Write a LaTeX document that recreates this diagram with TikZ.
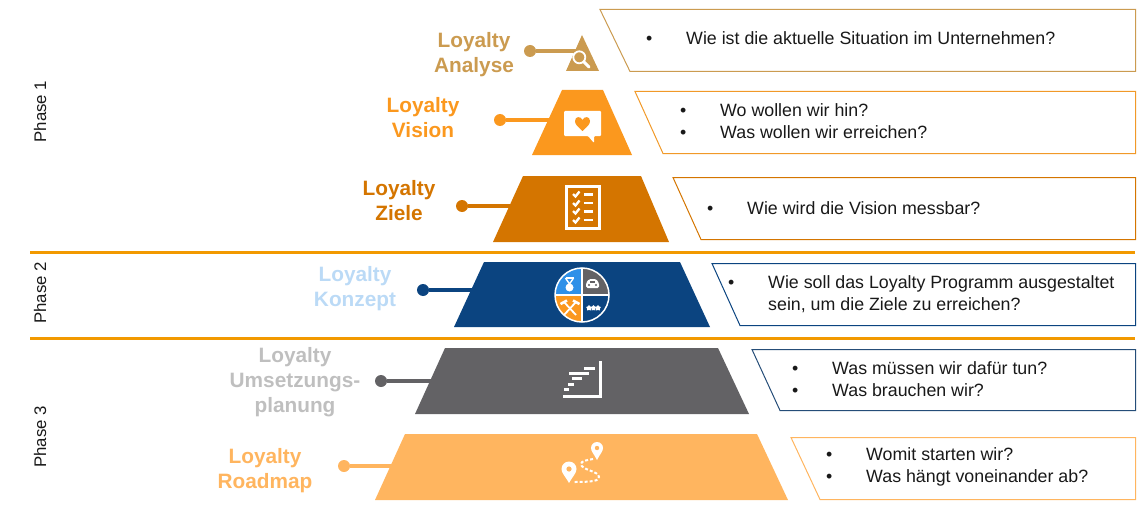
\documentclass[tikz,border=0pt]{standalone}
\usepackage{fontspec}
\setmainfont{Liberation Sans}
\usetikzlibrary{shapes.geometric}
\definecolor{analyse}{HTML}{CB9B50}
\definecolor{vision}{HTML}{FB981E}
\definecolor{ziele}{HTML}{D47500}
\definecolor{konzept}{HTML}{0B4480}
\definecolor{konzeptlight}{HTML}{BBDAF6}
\definecolor{umsetzung}{HTML}{636265}
\definecolor{umsetzunglight}{HTML}{BFBFBF}
\definecolor{roadmap}{HTML}{FFB55F}
\definecolor{divider}{HTML}{F29900}
\definecolor{sky}{HTML}{2E90E8}
\tikzset{
  tierlabel/.style={font=\fontsize{20.8}{25}\bfseries\selectfont, align=center},
  dot/.style={circle, fill=#1, inner sep=0pt, minimum size=12pt},
  stem/.style={line width=3.2pt, draw=#1},
  answer/.style={anchor=base west, inner sep=0pt, text=black!90, font=\fontsize{17.8}{20}\selectfont},
  phase/.style={rotate=90, text=black!90, font=\fontsize{16.8}{20}\selectfont},
  ico/.style={draw=white, line width=#1},
  ico/.default=2.5pt,
  qbox/.style={draw=#1, line width=1pt}
}

\begin{document}
\begin{tikzpicture}[x=1pt,y=-1pt]
\useasboundingbox (0,0) rectangle (1142,508);
% pyramid
\fill[analyse] (582,35)--(599,71)--(566,71)--cycle;
\fill[vision] (562,90)--(603,90)--(632,155)--(532,155)--cycle;
\fill[ziele] (523,176)--(641,176)--(669,242)--(493,242)--cycle;
\fill[konzept] (484,262)--(680,262)--(710,327)--(454,327)--cycle;
\fill[umsetzung] (445,348)--(718,348)--(749,414)--(415,414)--cycle;
\fill[roadmap] (405,434)--(757,434)--(788,500)--(375,500)--cycle;
% question boxes
\draw[qbox=analyse] (600,9.5)--(1135.5,9.5)--(1135.5,71.5)--(630,71.5)--cycle;
\draw[qbox=vision!80!analyse] (635,91.5)--(1135.5,91.5)--(1135.5,153.5)--(663,153.5)--cycle;
\draw[qbox=ziele] (673,177.5)--(1135.5,177.5)--(1135.5,239.5)--(701,239.5)--cycle;
\draw[qbox=konzept] (712,263.5)--(1135.5,263.5)--(1135.5,325.5)--(740,325.5)--cycle;
\draw[qbox=konzept!70!umsetzung] (752,349.5)--(1135.5,349.5)--(1135.5,410.5)--(780,410.5)--cycle;
\draw[qbox=roadmap] (791,437.5)--(1135.5,437.5)--(1135.5,499.5)--(820,499.5)--cycle;
% dividers
\coordinate (divAl) at (30,252.5);
\coordinate (divAr) at (1135,252.5);
\coordinate (divBl) at (30,338.5);
\coordinate (divBr) at (1135,338.5);
\draw[divider,line width=3pt] (divAl)--(divAr);
\draw[divider,line width=3pt] (divBl)--(divBr);
% phases
\node[phase] (phaseA) at (40,111.5) {Phase 1};
\node[phase] (phaseB) at (40,293) {Phase 2};
\node[phase] (phaseC) at (40,437) {Phase 3};
% labels
\node[tierlabel,text=analyse] (labelA) at (474,55) {Loyalty\\Analyse};
\node[tierlabel,text=vision] (labelB) at (423,118) {Loyalty\\Vision};
\node[tierlabel,text=ziele] (labelC) at (399,201) {Loyalty\\Ziele};
\node[tierlabel,text=konzeptlight] (labelD) at (355,289) {Loyalty\\Konzept};
\node[tierlabel,text=umsetzunglight] (labelE) at (295,382) {Loyalty\\Umsetzungs-\\planung};
\node[tierlabel,text=roadmap] (labelF) at (265,471) {Loyalty\\Roadmap};
% connectors
\node[dot=analyse] (dotA) at (530,51) {};
\node[dot=vision] (dotB) at (500,120) {};
\node[dot=ziele] (dotC) at (462,206) {};
\node[dot=konzept] (dotD) at (423,290) {};
\node[dot=umsetzung] (dotE) at (381,381) {};
\node[dot=roadmap] (dotF) at (344,466) {};
\coordinate (endA) at (576,51);
\coordinate (endB) at (552,120);
\coordinate (endC) at (512,206);
\coordinate (endD) at (472,290);
\coordinate (endE) at (431,381);
\coordinate (endF) at (392,466);
\draw[stem=analyse] (dotA)--(endA);
\draw[stem=vision] (dotB)--(endB);
\draw[stem=ziele] (dotC)--(endC);
\draw[stem=konzept] (dotD)--(endD);
\draw[stem=umsetzung] (dotE)--(endE);
\draw[stem=roadmap] (dotF)--(endF);
% magnifier
\draw[ico=1.8pt] (579.3,57.3) circle (6);
\draw[ico=3pt,line cap=round] (584,62)--(589,67);
% bubble
\fill[white,rounded corners=1pt] (564,111)--(601,111)--(601,136)--(594,136)--(594,143)--(588,136)--(564,136)--cycle;
\fill[vision] (582.5,131) .. controls (577,126) and (575,124) .. (575,121) .. controls (575,116) and (581,116) .. (582.5,120) .. controls (584,116) and (590,116) .. (590,121) .. controls (590,124) and (588,126) .. (582.5,131);
% checklist
\draw[ico=3pt] (566,186) rectangle (599,228);
\draw[ico=2.3pt] (573,194)--(575.5,196.5)--(579.5,191.5);
\draw[ico=2.3pt] (573,203)--(575.5,205.5)--(579.5,200.5);
\draw[ico=2.3pt] (573,211)--(575.5,213.5)--(579.5,208.5);
\draw[ico=2.3pt] (573,220)--(575.5,222.5)--(579.5,217.5);
\draw[ico=2.3pt] (584,194.5)--(593,194.5);
\draw[ico=2.3pt] (584,203)--(593,203);
\draw[ico=2.3pt] (584,211.5)--(593,211.5);
\draw[ico=2.3pt] (584,220)--(593,220);
% pie
\fill[sky] (582,295)--(555,295) arc[start angle=180,end angle=270,radius=27]--cycle;
\fill[umsetzung] (582,295)--(582,268) arc[start angle=270,end angle=360,radius=27]--cycle;
\fill[vision] (582,295)--(582,322) arc[start angle=90,end angle=180,radius=27]--cycle;
\draw[ico=1.5pt] (582,295) circle (27);
\draw[ico=1.5pt] (555,295)--(609,295);
\draw[ico=1.5pt] (582,268)--(582,322);
% medal
\draw[ico=1.4pt] (565.5,278)--(569.5,284)--(573.5,278);
\draw[ico=1.2pt] (566,278)--(574,278);
\fill[white] (569.5,287.5) circle (4);
% car
\fill[white,rounded corners=1.5pt] (586,283)--(589,279)--(596,279)--(599,283)--(599,288)--(586,288)--cycle;
\fill[umsetzung] (590,280.5) rectangle (595,283);
\fill[umsetzung] (589,285) circle (1.2);
\fill[umsetzung] (596,285) circle (1.2);
% hammers
\draw[ico=1.8pt] (564,315)--(576,302);
\draw[ico=1.8pt] (576,315)--(564,302);
\draw[ico=2.6pt] (560.5,304)--(567,300.5);
\draw[ico=2.6pt] (579.5,304)--(573,300.5);
% stars
\node[star,star points=5,fill=white,inner sep=0pt,minimum size=6pt] (starA) at (589,308) {};
\node[star,star points=5,fill=white,inner sep=0pt,minimum size=6pt] (starB) at (593.5,308) {};
\node[star,star points=5,fill=white,inner sep=0pt,minimum size=6pt] (starC) at (598,308) {};
% stairs
\draw[ico=3pt] (600.5,361)--(600.5,396.5)--(563,396.5);
\draw[ico=3pt] (584,368)--(595,368);
\draw[ico=3pt] (569,373.3)--(589,373.3);
\draw[ico=3pt] (572,378.7)--(582,378.7);
\draw[ico=3pt] (568,384)--(574,384);
\draw[ico=3pt] (564,389.3)--(569,389.3);
% pins
\fill[white] (569,483) .. controls (565,476) and (561.5,473) .. (561.5,469) arc[start angle=180,end angle=360,radius=7.5] .. controls (576.5,473) and (573,476) .. (569,483);
\fill[roadmap] (569,469) circle (2.6);
\fill[white] (597,460) .. controls (594,454) and (591,451.5) .. (591,448) arc[start angle=180,end angle=360,radius=6] .. controls (603,451.5) and (600,454) .. (597,460);
\fill[roadmap] (597,448) circle (2.2);
\draw[white,line width=2pt,dash pattern=on 3pt off 2pt] (593,459) .. controls (587,460) and (581,461) .. (581,464) .. controls (581,470) and (599,471) .. (599,477) .. controls (599,481) and (592,482) .. (574,482);
% question texts
\node[answer] (bulA) at (646,45) {•};
\node[answer] (textA) at (686,45) {Wie ist die aktuelle Situation im Unternehmen?};
\node[answer] (bulB) at (680,117) {•};
\node[answer] (textB) at (720,117) {Wo wollen wir hin?};
\node[answer] (bulBb) at (680,139) {•};
\node[answer] (textBb) at (720,139) {Was wollen wir erreichen?};
\node[answer] (bulC) at (707,214) {•};
\node[answer] (textC) at (747,214) {Wie wird die Vision messbar?};
\node[answer] (bulD) at (728,288) {•};
\node[answer] (textD) at (768,288) {Wie soll das Loyalty Programm ausgestaltet};
\node[answer] (textDb) at (768,310) {sein, um die Ziele zu erreichen?};
\node[answer] (bulE) at (792,374) {•};
\node[answer] (textE) at (832,374) {Was müssen wir dafür tun?};
\node[answer] (bulEb) at (792,396) {•};
\node[answer] (textEb) at (832,396) {Was brauchen wir?};
\node[answer] (bulF) at (826,460) {•};
\node[answer] (textF) at (866,460) {Womit starten wir?};
\node[answer] (bulFb) at (826,482) {•};
\node[answer] (textFb) at (866,482) {Was hängt voneinander ab?};
\end{tikzpicture}
\end{document}
